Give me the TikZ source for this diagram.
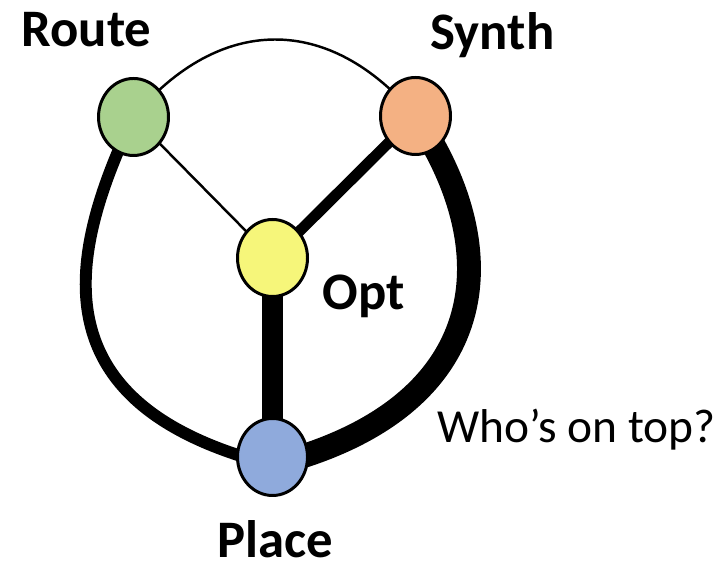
\documentclass[tikz,border=0pt]{standalone}
\usepackage{fontspec}
\setmainfont{Carlito}
\usetikzlibrary{shapes.geometric,backgrounds}
\definecolor{routegreen}{RGB}{169,209,142}
\definecolor{synthorange}{RGB}{244,177,131}
\definecolor{optyellow}{RGB}{246,246,122}
\definecolor{placeblue}{RGB}{143,170,220}

\begin{document}
\begin{tikzpicture}[
  stagenode/.style={shape=ellipse, draw=black, line width=0.85pt, minimum width=0.70cm, minimum height=0.77cm, inner sep=0pt},
  stagelabel/.style={font=\bfseries\fontsize{15}{18}\selectfont, anchor=base, inner sep=0pt},
  wire/.style={draw=black, line width=#1}
]
\useasboundingbox (0,0) rectangle (7.25,5.69);
% stages
\node[stagenode, fill=routegreen] (R) at (1.335,4.52) {};
\node[stagenode, fill=synthorange] (S) at (4.155,4.53) {};
\node[stagenode, fill=optyellow] (O) at (2.725,3.11) {};
\node[stagenode, fill=placeblue] (P) at (2.725,1.12) {};
% labels
\node[stagelabel] (Rlabel) at (0.865,5.22) {Route};
\node[stagelabel] (Slabel) at (4.925,5.19) {Synth};
\node[stagelabel] (Olabel) at (3.64,2.59) {Opt};
\node[stagelabel] (Plabel) at (2.75,0.12) {Place};
\node[stagelabel, font=\fontsize{13.5}{16}\selectfont] (Qlabel) at (5.765,1.26) {Who’s on top?};
% links
\begin{scope}[on background layer]
\path [wire=0.7pt] (R.center) edge (O.center);
\path [wire=3.1pt] (S.center) edge (O.center);
\path [wire=6pt] (O.center) edge (P.center);
\draw [wire=0.7pt] (R.center) .. controls +(50:1.34) and +(130:1.34) .. (S.center);
\draw [wire=3.4pt] (R.center) .. controls +(-0.655,-1.38) and +(-2.375,0.60) .. ([yshift=-0.08cm]P.center);
\draw [wire=6.8pt] (S.center) .. controls +(0.94,-1.39) and +(2.175,0.55) .. ([yshift=-0.08cm]P.center);
\end{scope}
\end{tikzpicture}
\end{document}
